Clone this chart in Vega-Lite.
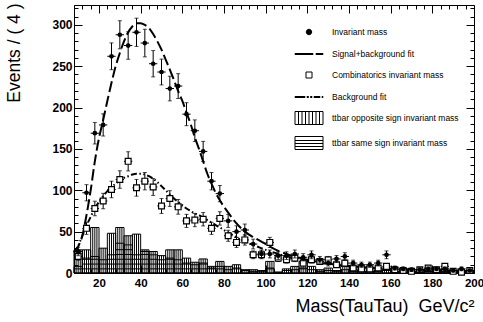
{
  "$schema": "https://vega.github.io/schema/vega-lite/v6.json",
  "width": 400,
  "height": 268,
  "autosize": {"type": "none"},
  "padding": {"left": 74, "top": 5, "right": 9, "bottom": 49},
  "background": "white",
  "config": {
    "view": {"stroke": "black", "strokeWidth": 1},
    "font": "Liberation Sans",
    "legend": {
      "orient": "none", "legendX": 224.5, "legendY": 16.5, "title": null,
      "symbolSize": 400, "symbolStrokeColor": "black", "symbolStrokeWidth": 1, "symbolOpacity": 1,
      "labelFont": "Liberation Sans", "labelFontSize": 8.5, "labelColor": "black",
      "labelOffset": 12.5, "rowPadding": 6, "padding": 0
    }
  },
  "datasets": {
    "bins": [
      {"m":10,"lo":8,"hi":12,"inv":26,"ie":5.1,"comb":20,"ce":4.5,"os":28,"ss":8},
      {"m":14,"lo":12,"hi":16,"inv":97,"ie":9.8,"comb":54,"ce":7.3,"os":28,"ss":18},
      {"m":18,"lo":16,"hi":20,"inv":169,"ie":13,"comb":78,"ce":8.8,"os":55,"ss":20},
      {"m":22,"lo":20,"hi":24,"inv":179,"ie":13.4,"comb":87,"ce":9.3,"os":30,"ss":16},
      {"m":26,"lo":24,"hi":28,"inv":262,"ie":16.2,"comb":101,"ce":10,"os":48,"ss":22},
      {"m":30,"lo":28,"hi":32,"inv":288,"ie":17,"comb":113,"ce":10.6,"os":55,"ss":36},
      {"m":34,"lo":32,"hi":36,"inv":275,"ie":16.6,"comb":135,"ce":11.6,"os":45,"ss":34},
      {"m":38,"lo":36,"hi":40,"inv":291,"ie":17.1,"comb":103,"ce":10.1,"os":47,"ss":22},
      {"m":42,"lo":40,"hi":44,"inv":278,"ie":16.7,"comb":111,"ce":10.5,"os":28,"ss":26},
      {"m":46,"lo":44,"hi":48,"inv":253,"ie":15.9,"comb":104,"ce":10.2,"os":26,"ss":22},
      {"m":50,"lo":48,"hi":52,"inv":243,"ie":15.6,"comb":81,"ce":9,"os":21,"ss":16},
      {"m":54,"lo":52,"hi":56,"inv":223,"ie":14.9,"comb":90,"ce":9.5,"os":28,"ss":18},
      {"m":58,"lo":56,"hi":60,"inv":226,"ie":15,"comb":80,"ce":8.9,"os":28,"ss":16},
      {"m":62,"lo":60,"hi":64,"inv":192,"ie":13.9,"comb":63,"ce":7.9,"os":18,"ss":12},
      {"m":66,"lo":64,"hi":68,"inv":172,"ie":13.1,"comb":64,"ce":8,"os":13,"ss":10},
      {"m":70,"lo":68,"hi":72,"inv":147,"ie":12.1,"comb":65,"ce":8.1,"os":17,"ss":12},
      {"m":74,"lo":72,"hi":76,"inv":111,"ie":10.5,"comb":54,"ce":7.3,"os":8,"ss":6},
      {"m":78,"lo":76,"hi":80,"inv":96,"ie":9.8,"comb":66,"ce":8.1,"os":14,"ss":8},
      {"m":82,"lo":80,"hi":84,"inv":63,"ie":7.9,"comb":45,"ce":6.7,"os":8,"ss":4},
      {"m":86,"lo":84,"hi":88,"inv":50,"ie":7.1,"comb":37,"ce":6.1,"os":10,"ss":6},
      {"m":90,"lo":88,"hi":92,"inv":52,"ie":7.2,"comb":40,"ce":6.3,"os":4,"ss":3},
      {"m":94,"lo":92,"hi":96,"inv":35,"ie":5.9,"comb":22,"ce":4.7,"os":4,"ss":2},
      {"m":98,"lo":96,"hi":100,"inv":23,"ie":4.8,"comb":22,"ce":4.7,"os":3,"ss":2},
      {"m":102,"lo":100,"hi":104,"inv":23,"ie":4.8,"comb":37,"ce":6.1,"os":14,"ss":6},
      {"m":106,"lo":104,"hi":108,"inv":21,"ie":4.6,"comb":18,"ce":4.2,"os":1,"ss":1},
      {"m":110,"lo":108,"hi":112,"inv":21,"ie":4.6,"comb":16,"ce":4,"os":5,"ss":3},
      {"m":114,"lo":112,"hi":116,"inv":23,"ie":4.8,"comb":18,"ce":4.2,"os":8,"ss":4},
      {"m":118,"lo":116,"hi":120,"inv":19,"ie":4.4,"comb":12,"ce":3.5,"os":14,"ss":6},
      {"m":122,"lo":120,"hi":124,"inv":22,"ie":4.7,"comb":16,"ce":4,"os":8,"ss":4},
      {"m":126,"lo":124,"hi":128,"inv":16,"ie":4,"comb":14,"ce":3.7,"os":4,"ss":2},
      {"m":130,"lo":128,"hi":132,"inv":12,"ie":3.5,"comb":16,"ce":4,"os":6,"ss":3},
      {"m":134,"lo":132,"hi":136,"inv":17,"ie":4.1,"comb":10,"ce":3.2,"os":3,"ss":2},
      {"m":138,"lo":136,"hi":140,"inv":20,"ie":4.5,"comb":12,"ce":3.5,"os":8,"ss":4},
      {"m":142,"lo":140,"hi":144,"inv":12,"ie":3.5,"comb":6,"ce":2.4,"os":4,"ss":2},
      {"m":146,"lo":144,"hi":148,"inv":10,"ie":3.2,"comb":5,"ce":2.2,"os":2,"ss":2},
      {"m":150,"lo":148,"hi":152,"inv":10,"ie":3.2,"comb":5,"ce":2.2,"os":2,"ss":2},
      {"m":154,"lo":152,"hi":156,"inv":12,"ie":3.5,"comb":6,"ce":2.4,"os":3,"ss":2},
      {"m":158,"lo":156,"hi":160,"inv":22,"ie":4.7,"comb":8,"ce":2.8,"os":4,"ss":3},
      {"m":162,"lo":160,"hi":164,"inv":6,"ie":2.4,"comb":4,"ce":2,"os":2,"ss":1},
      {"m":166,"lo":164,"hi":168,"inv":5,"ie":2.2,"comb":3,"ce":1.7,"os":1,"ss":1},
      {"m":170,"lo":168,"hi":172,"inv":4,"ie":2,"comb":2,"ce":1.4,"os":2,"ss":1},
      {"m":174,"lo":172,"hi":176,"inv":4,"ie":2,"comb":4,"ce":2,"os":1,"ss":1},
      {"m":178,"lo":176,"hi":180,"inv":5,"ie":2.2,"comb":6,"ce":2.4,"os":2,"ss":2},
      {"m":182,"lo":180,"hi":184,"inv":5,"ie":2.2,"comb":4,"ce":2,"os":1,"ss":1},
      {"m":186,"lo":184,"hi":188,"inv":5,"ie":2.2,"comb":8,"ce":2.8,"os":2,"ss":1},
      {"m":190,"lo":188,"hi":192,"inv":3,"ie":1.7,"comb":2,"ce":1.4,"os":1,"ss":1},
      {"m":194,"lo":192,"hi":196,"inv":5,"ie":2.2,"comb":1,"ce":1,"os":0,"ss":1},
      {"m":198,"lo":196,"hi":200,"inv":3,"ie":1.7,"comb":3,"ce":1.7,"os":1,"ss":1}
    ],
    "fits": [
      {"m":8,"sig":25,"bkg":25},{"m":10,"sig":32,"bkg":33},{"m":12,"sig":45,"bkg":45},
      {"m":14,"sig":70,"bkg":57},{"m":16,"sig":100,"bkg":68},{"m":18,"sig":135,"bkg":78},
      {"m":20,"sig":163,"bkg":86},{"m":22,"sig":185,"bkg":93},{"m":24,"sig":208,"bkg":99},
      {"m":26,"sig":230,"bkg":104},{"m":28,"sig":250,"bkg":108},{"m":30,"sig":266,"bkg":112},
      {"m":32,"sig":280,"bkg":115},{"m":34,"sig":291,"bkg":117},{"m":36,"sig":298,"bkg":119},
      {"m":38,"sig":302,"bkg":120},{"m":40,"sig":302,"bkg":120},{"m":42,"sig":300,"bkg":119},
      {"m":44,"sig":296,"bkg":117},{"m":46,"sig":289,"bkg":114},{"m":48,"sig":280,"bkg":110},
      {"m":50,"sig":270,"bkg":105},{"m":52,"sig":258,"bkg":100},{"m":54,"sig":246,"bkg":95},
      {"m":56,"sig":233,"bkg":90},{"m":58,"sig":220,"bkg":86},{"m":60,"sig":208,"bkg":82},
      {"m":62,"sig":194,"bkg":78},{"m":64,"sig":180,"bkg":75},{"m":66,"sig":164,"bkg":72},
      {"m":68,"sig":150,"bkg":70},{"m":70,"sig":135,"bkg":67},{"m":72,"sig":120,"bkg":64},
      {"m":74,"sig":108,"bkg":61},{"m":76,"sig":97,"bkg":58},{"m":78,"sig":88,"bkg":55},
      {"m":80,"sig":80,"bkg":52},{"m":82,"sig":73,"bkg":49},{"m":86,"sig":60,"bkg":43},
      {"m":90,"sig":50,"bkg":38},{"m":95,"sig":42,"bkg":33},{"m":100,"sig":35,"bkg":28},
      {"m":105,"sig":28,"bkg":24},{"m":110,"sig":23,"bkg":20},{"m":115,"sig":19,"bkg":17},
      {"m":120,"sig":16,"bkg":14.5},{"m":130,"sig":11.5,"bkg":11},{"m":140,"sig":8.5,"bkg":8.5},
      {"m":150,"sig":6.5,"bkg":6.5},{"m":160,"sig":5,"bkg":5},{"m":170,"sig":4,"bkg":4},
      {"m":180,"sig":3.2,"bkg":3.2},{"m":190,"sig":2.6,"bkg":2.6},{"m":200,"sig":2,"bkg":2}
    ],
    "leg": [
      {"series":"Invariant mass"},
      {"series":"Signal+background fit"},
      {"series":"Combinatorics invariant mass"},
      {"series":"Background fit"},
      {"series":"ttbar opposite sign invariant mass"},
      {"series":"ttbar same sign invariant mass"}
    ]
  },
  "resolve": {"axis": {"x": "independent", "y": "independent"}},
  "layer": [
    {
      "data": {"name": "bins"},
      "mark": {"type": "bar", "fillOpacity": 0, "stroke": "black", "strokeWidth": 1},
      "encoding": {
        "x": {"field": "lo", "type": "quantitative",
          "scale": {"domain": [8, 200], "nice": false, "zero": false},
          "axis": {
            "orient": "bottom",
            "values": [8,12,16,20,24,28,32,36,40,44,48,52,56,60,64,68,72,76,80,84,88,92,96,100,104,108,112,116,120,124,128,132,136,140,144,148,152,156,160,164,168,172,176,180,184,188,192,196,200],
            "labelExpr": "datum.value % 20 === 0 ? datum.label : ''",
            "tickSize": {"condition": {"test": "datum.value % 20 === 0", "value": -8}, "value": -4},
            "tickColor": "black", "tickWidth": 1, "domain": false, "grid": false,
            "labelFont": "Liberation Sans", "labelFontSize": 11.5, "labelFontWeight": "bold",
            "labelColor": "black", "labelPadding": 12, "labelFlush": false, "labelOverlap": false,
            "title": "Mass(TauTau) \u00a0GeV/c\u00b2", "titleFont": "Liberation Sans", "titleFontSize": 18,
            "titleFontWeight": "normal", "titleColor": "black", "titleAnchor": "end", "titleAlign": "right",
            "titleX": 400, "titleY": 38, "titleBaseline": "alphabetic"
          }
        },
        "x2": {"field": "hi"},
        "y": {"field": "os", "type": "quantitative",
          "scale": {"domain": [0, 324], "nice": false},
          "axis": {
            "orient": "left",
            "values": [0,10,20,30,40,50,60,70,80,90,100,110,120,130,140,150,160,170,180,190,200,210,220,230,240,250,260,270,280,290,300,310,320],
            "labelExpr": "datum.value % 50 === 0 ? datum.label : ''",
            "tickSize": {"condition": {"test": "datum.value % 50 === 0", "value": -8}, "value": -4},
            "tickColor": "black", "tickWidth": 1, "domain": false, "grid": false,
            "labelFont": "Liberation Sans", "labelFontSize": 12, "labelFontWeight": "bold",
            "labelColor": "black", "labelPadding": 10, "labelFlush": false, "labelOverlap": false,
            "title": "Events / ( 4 )", "titleFont": "Liberation Sans", "titleFontSize": 17.5,
            "titleFontWeight": "normal", "titleColor": "black", "titleAngle": 270,
            "titleAlign": "right", "titleBaseline": "middle", "titleX": -60, "titleY": -2
          }
        },
        "y2": {"datum": 0}
      }
    },
    {
      "data": {"name": "bins"},
      "mark": {"type": "bar", "fillOpacity": 0, "stroke": "black", "strokeWidth": 1},
      "encoding": {
        "x": {"field": "lo", "type": "quantitative", "axis": null},
        "x2": {"field": "hi"},
        "y": {"field": "ss", "type": "quantitative", "axis": null},
        "y2": {"datum": 0}
      }
    },
    {
      "data": {"name": "bins"},
      "transform": [{"filter": "datum.os > 0"}],
      "mark": {"type": "rule", "color": "black", "strokeWidth": 1, "xOffset": 2.08},
      "encoding": {
        "x": {"field": "lo", "type": "quantitative", "axis": null},
        "y": {"field": "os", "type": "quantitative", "axis": null},
        "y2": {"datum": 0}
      }
    },
    {
      "data": {"name": "bins"},
      "transform": [{"filter": "datum.os > 0"}],
      "mark": {"type": "rule", "color": "black", "strokeWidth": 1, "xOffset": 4.17},
      "encoding": {
        "x": {"field": "lo", "type": "quantitative", "axis": null},
        "y": {"field": "os", "type": "quantitative", "axis": null},
        "y2": {"datum": 0}
      }
    },
    {
      "data": {"name": "bins"},
      "transform": [{"filter": "datum.os > 0"}],
      "mark": {"type": "rule", "color": "black", "strokeWidth": 1, "xOffset": 6.25},
      "encoding": {
        "x": {"field": "lo", "type": "quantitative", "axis": null},
        "y": {"field": "os", "type": "quantitative", "axis": null},
        "y2": {"datum": 0}
      }
    },
    {
      "data": {"name": "bins"},
      "transform": [{"filter": "datum.ss > 5"}],
      "mark": {"type": "rule", "color": "black", "strokeWidth": 1},
      "encoding": {
        "x": {"field": "lo", "type": "quantitative", "axis": null},
        "x2": {"field": "hi"},
        "y": {"datum": 5, "type": "quantitative", "axis": null}
      }
    },
    {
      "data": {"name": "bins"},
      "transform": [{"filter": "datum.ss > 10.8"}],
      "mark": {"type": "rule", "color": "black", "strokeWidth": 1},
      "encoding": {
        "x": {"field": "lo", "type": "quantitative", "axis": null},
        "x2": {"field": "hi"},
        "y": {"datum": 10.8, "type": "quantitative", "axis": null}
      }
    },
    {
      "data": {"name": "bins"},
      "transform": [{"filter": "datum.ss > 16.6"}],
      "mark": {"type": "rule", "color": "black", "strokeWidth": 1},
      "encoding": {
        "x": {"field": "lo", "type": "quantitative", "axis": null},
        "x2": {"field": "hi"},
        "y": {"datum": 16.6, "type": "quantitative", "axis": null}
      }
    },
    {
      "data": {"name": "bins"},
      "transform": [{"filter": "datum.ss > 22.4"}],
      "mark": {"type": "rule", "color": "black", "strokeWidth": 1},
      "encoding": {
        "x": {"field": "lo", "type": "quantitative", "axis": null},
        "x2": {"field": "hi"},
        "y": {"datum": 22.4, "type": "quantitative", "axis": null}
      }
    },
    {
      "data": {"name": "bins"},
      "transform": [{"filter": "datum.ss > 28.2"}],
      "mark": {"type": "rule", "color": "black", "strokeWidth": 1},
      "encoding": {
        "x": {"field": "lo", "type": "quantitative", "axis": null},
        "x2": {"field": "hi"},
        "y": {"datum": 28.2, "type": "quantitative", "axis": null}
      }
    },
    {
      "data": {"name": "fits"},
      "mark": {"type": "line", "color": "black", "strokeWidth": 2, "strokeDash": [6, 2.5, 1.5, 2.5, 1.5, 2.5], "interpolate": "monotone"},
      "encoding": {
        "x": {"field": "m", "type": "quantitative", "axis": null},
        "y": {"field": "bkg", "type": "quantitative", "axis": null}
      }
    },
    {
      "data": {"name": "fits"},
      "mark": {"type": "line", "color": "black", "strokeWidth": 2, "strokeDash": [11, 4], "interpolate": "monotone"},
      "encoding": {
        "x": {"field": "m", "type": "quantitative", "axis": null},
        "y": {"field": "sig", "type": "quantitative", "axis": null}
      }
    },
    {
      "data": {"name": "bins"},
      "mark": {"type": "rule", "color": "black", "strokeWidth": 1},
      "encoding": {
        "x": {"field": "lo", "type": "quantitative", "axis": null},
        "x2": {"field": "hi"},
        "y": {"field": "comb", "type": "quantitative", "axis": null}
      }
    },
    {
      "data": {"name": "bins"},
      "mark": {"type": "errorbar", "color": "black", "ticks": {"size": 4, "thickness": 1, "color": "black"}},
      "encoding": {
        "x": {"field": "m", "type": "quantitative", "axis": null},
        "y": {"field": "comb", "type": "quantitative", "axis": null},
        "yError": {"field": "ce"}
      }
    },
    {
      "data": {"name": "bins"},
      "mark": {"type": "point", "shape": "square", "size": 34, "filled": false, "fill": "white", "stroke": "black", "strokeWidth": 1.2, "opacity": 1},
      "encoding": {
        "x": {"field": "m", "type": "quantitative", "axis": null},
        "y": {"field": "comb", "type": "quantitative", "axis": null}
      }
    },
    {
      "data": {"name": "bins"},
      "mark": {"type": "rule", "color": "black", "strokeWidth": 1},
      "encoding": {
        "x": {"field": "lo", "type": "quantitative", "axis": null},
        "x2": {"field": "hi"},
        "y": {"field": "inv", "type": "quantitative", "axis": null}
      }
    },
    {
      "data": {"name": "bins"},
      "mark": {"type": "errorbar", "color": "black", "ticks": {"size": 4, "thickness": 1, "color": "black"}},
      "encoding": {
        "x": {"field": "m", "type": "quantitative", "axis": null},
        "y": {"field": "inv", "type": "quantitative", "axis": null},
        "yError": {"field": "ie"}
      }
    },
    {
      "data": {"name": "bins"},
      "mark": {"type": "point", "shape": "circle", "size": 22, "filled": true, "color": "black", "opacity": 1},
      "encoding": {
        "x": {"field": "m", "type": "quantitative",
          "axis": {
            "orient": "top",
            "values": [8,12,16,20,24,28,32,36,40,44,48,52,56,60,64,68,72,76,80,84,88,92,96,100,104,108,112,116,120,124,128,132,136,140,144,148,152,156,160,164,168,172,176,180,184,188,192,196,200],
            "labels": false, "title": null, "domain": false, "grid": false,
            "tickSize": {"condition": {"test": "datum.value % 20 === 0", "value": -8}, "value": -4},
            "tickColor": "black", "tickWidth": 1
          }
        },
        "y": {"field": "inv", "type": "quantitative",
          "axis": {
            "orient": "right",
            "values": [0,10,20,30,40,50,60,70,80,90,100,110,120,130,140,150,160,170,180,190,200,210,220,230,240,250,260,270,280,290,300,310,320],
            "labels": false, "title": null, "domain": false, "grid": false,
            "tickSize": {"condition": {"test": "datum.value % 50 === 0", "value": -8}, "value": -4},
            "tickColor": "black", "tickWidth": 1
          }
        }
      }
    },
    {
      "data": {"name": "leg"},
      "transform": [{"filter": "false"}],
      "mark": {"type": "point", "filled": false, "strokeWidth": 1, "opacity": 1},
      "encoding": {
        "shape": {"field": "series", "type": "nominal",
          "scale": {
            "domain": ["Invariant mass","Signal+background fit","Combinatorics invariant mass","Background fit","ttbar opposite sign invariant mass","ttbar same sign invariant mass"],
            "range": [
              "M-0.27,0A0.27,0.27,0,1,1,0.27,0A0.27,0.27,0,1,1,-0.27,0Z",
              "M-1.4,-0.05H0.4V0.05H-1.4ZM0.7,-0.05H1.4V0.05H0.7Z",
              "M-0.3,-0.3H0.3V0.3H-0.3Z",
              "M-1.4,-0.05H-0.4V0.05H-1.4ZM-0.2,-0.05H-0.05V0.05H-0.2ZM0.15,-0.05H0.3V0.05H0.15ZM0.5,-0.05H1.1V0.05H0.5ZM1.3,-0.05H1.4V0.05H1.3Z",
              "M-1.4,-0.65H1.4V0.65H-1.4ZM-1.05,-0.65V0.65M-0.7,-0.65V0.65M-0.35,-0.65V0.65M0,-0.65V0.65M0.35,-0.65V0.65M0.7,-0.65V0.65M1.05,-0.65V0.65",
              "M-1.4,-0.65H1.4V0.65H-1.4ZM-1.4,-0.25H1.4M-1.4,0.05H1.4M-1.4,0.35H1.4"
            ]
          },
          "legend": {"title": null}
        },
        "fill": {"field": "series", "type": "nominal",
          "scale": {
            "domain": ["Invariant mass","Signal+background fit","Combinatorics invariant mass","Background fit","ttbar opposite sign invariant mass","ttbar same sign invariant mass"],
            "range": ["black","black","white","black","white","white"]
          },
          "legend": {"title": null}
        },
        "stroke": {"field": "series", "type": "nominal",
          "scale": {
            "domain": ["Invariant mass","Signal+background fit","Combinatorics invariant mass","Background fit","ttbar opposite sign invariant mass","ttbar same sign invariant mass"],
            "range": ["black","black","black","black","black","black"]
          },
          "legend": {"title": null}
        }
      }
    }
  ]
}
